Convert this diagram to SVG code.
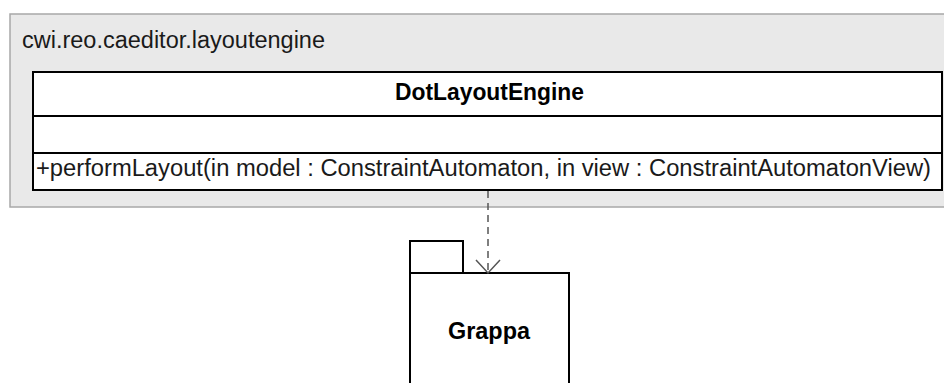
<svg xmlns="http://www.w3.org/2000/svg" width="944" height="383" viewBox="0 0 944 383">
<style>
.pkg{fill:#e9e9e9;stroke:#a8a8a8;stroke-width:1.5}
.box{fill:#ffffff;stroke:#000000;stroke-width:2}
.t{font-family:"Liberation Sans",Arial,sans-serif;font-size:23.5px;fill:#1a1a1a}
.b{font-weight:bold;fill:#000}
.dep{fill:none;stroke:#555;stroke-width:1.5}
</style>
<rect width="944" height="383" fill="#ffffff"/>
<g id="layoutengine">
<rect class="pkg" x="10" y="14" width="940" height="193"/>
<text class="t" x="22" y="47.5" textLength="303" lengthAdjust="spacingAndGlyphs">cwi.reo.caeditor.layoutengine</text>
</g>
<g id="DotLayoutEngine">
<rect class="box" x="33" y="72" width="909" height="118"/>
<line x1="33" y1="116" x2="942" y2="116" stroke="#000" stroke-width="2"/>
<line x1="33" y1="153" x2="942" y2="153" stroke="#000" stroke-width="2"/>
<text class="t b" x="489.5" y="100" text-anchor="middle" textLength="189" lengthAdjust="spacingAndGlyphs">DotLayoutEngine</text>
<text class="t" x="36" y="176" textLength="895" lengthAdjust="spacingAndGlyphs">+performLayout(in model : ConstraintAutomaton, in view : ConstraintAutomatonView)</text>
</g>
<g id="Grappa">
<rect class="box" x="410" y="241" width="53" height="32"/>
<rect class="box" x="410" y="273" width="159" height="120"/>
<text class="t b" x="489" y="339" text-anchor="middle" textLength="82" lengthAdjust="spacingAndGlyphs">Grappa</text>
</g>
<g id="connectors">
<line class="dep" x1="488" y1="191" x2="488" y2="272" stroke-dasharray="7,5"/>
<polyline class="dep" points="476,260 488,273 500,260"/>
</g>
</svg>
